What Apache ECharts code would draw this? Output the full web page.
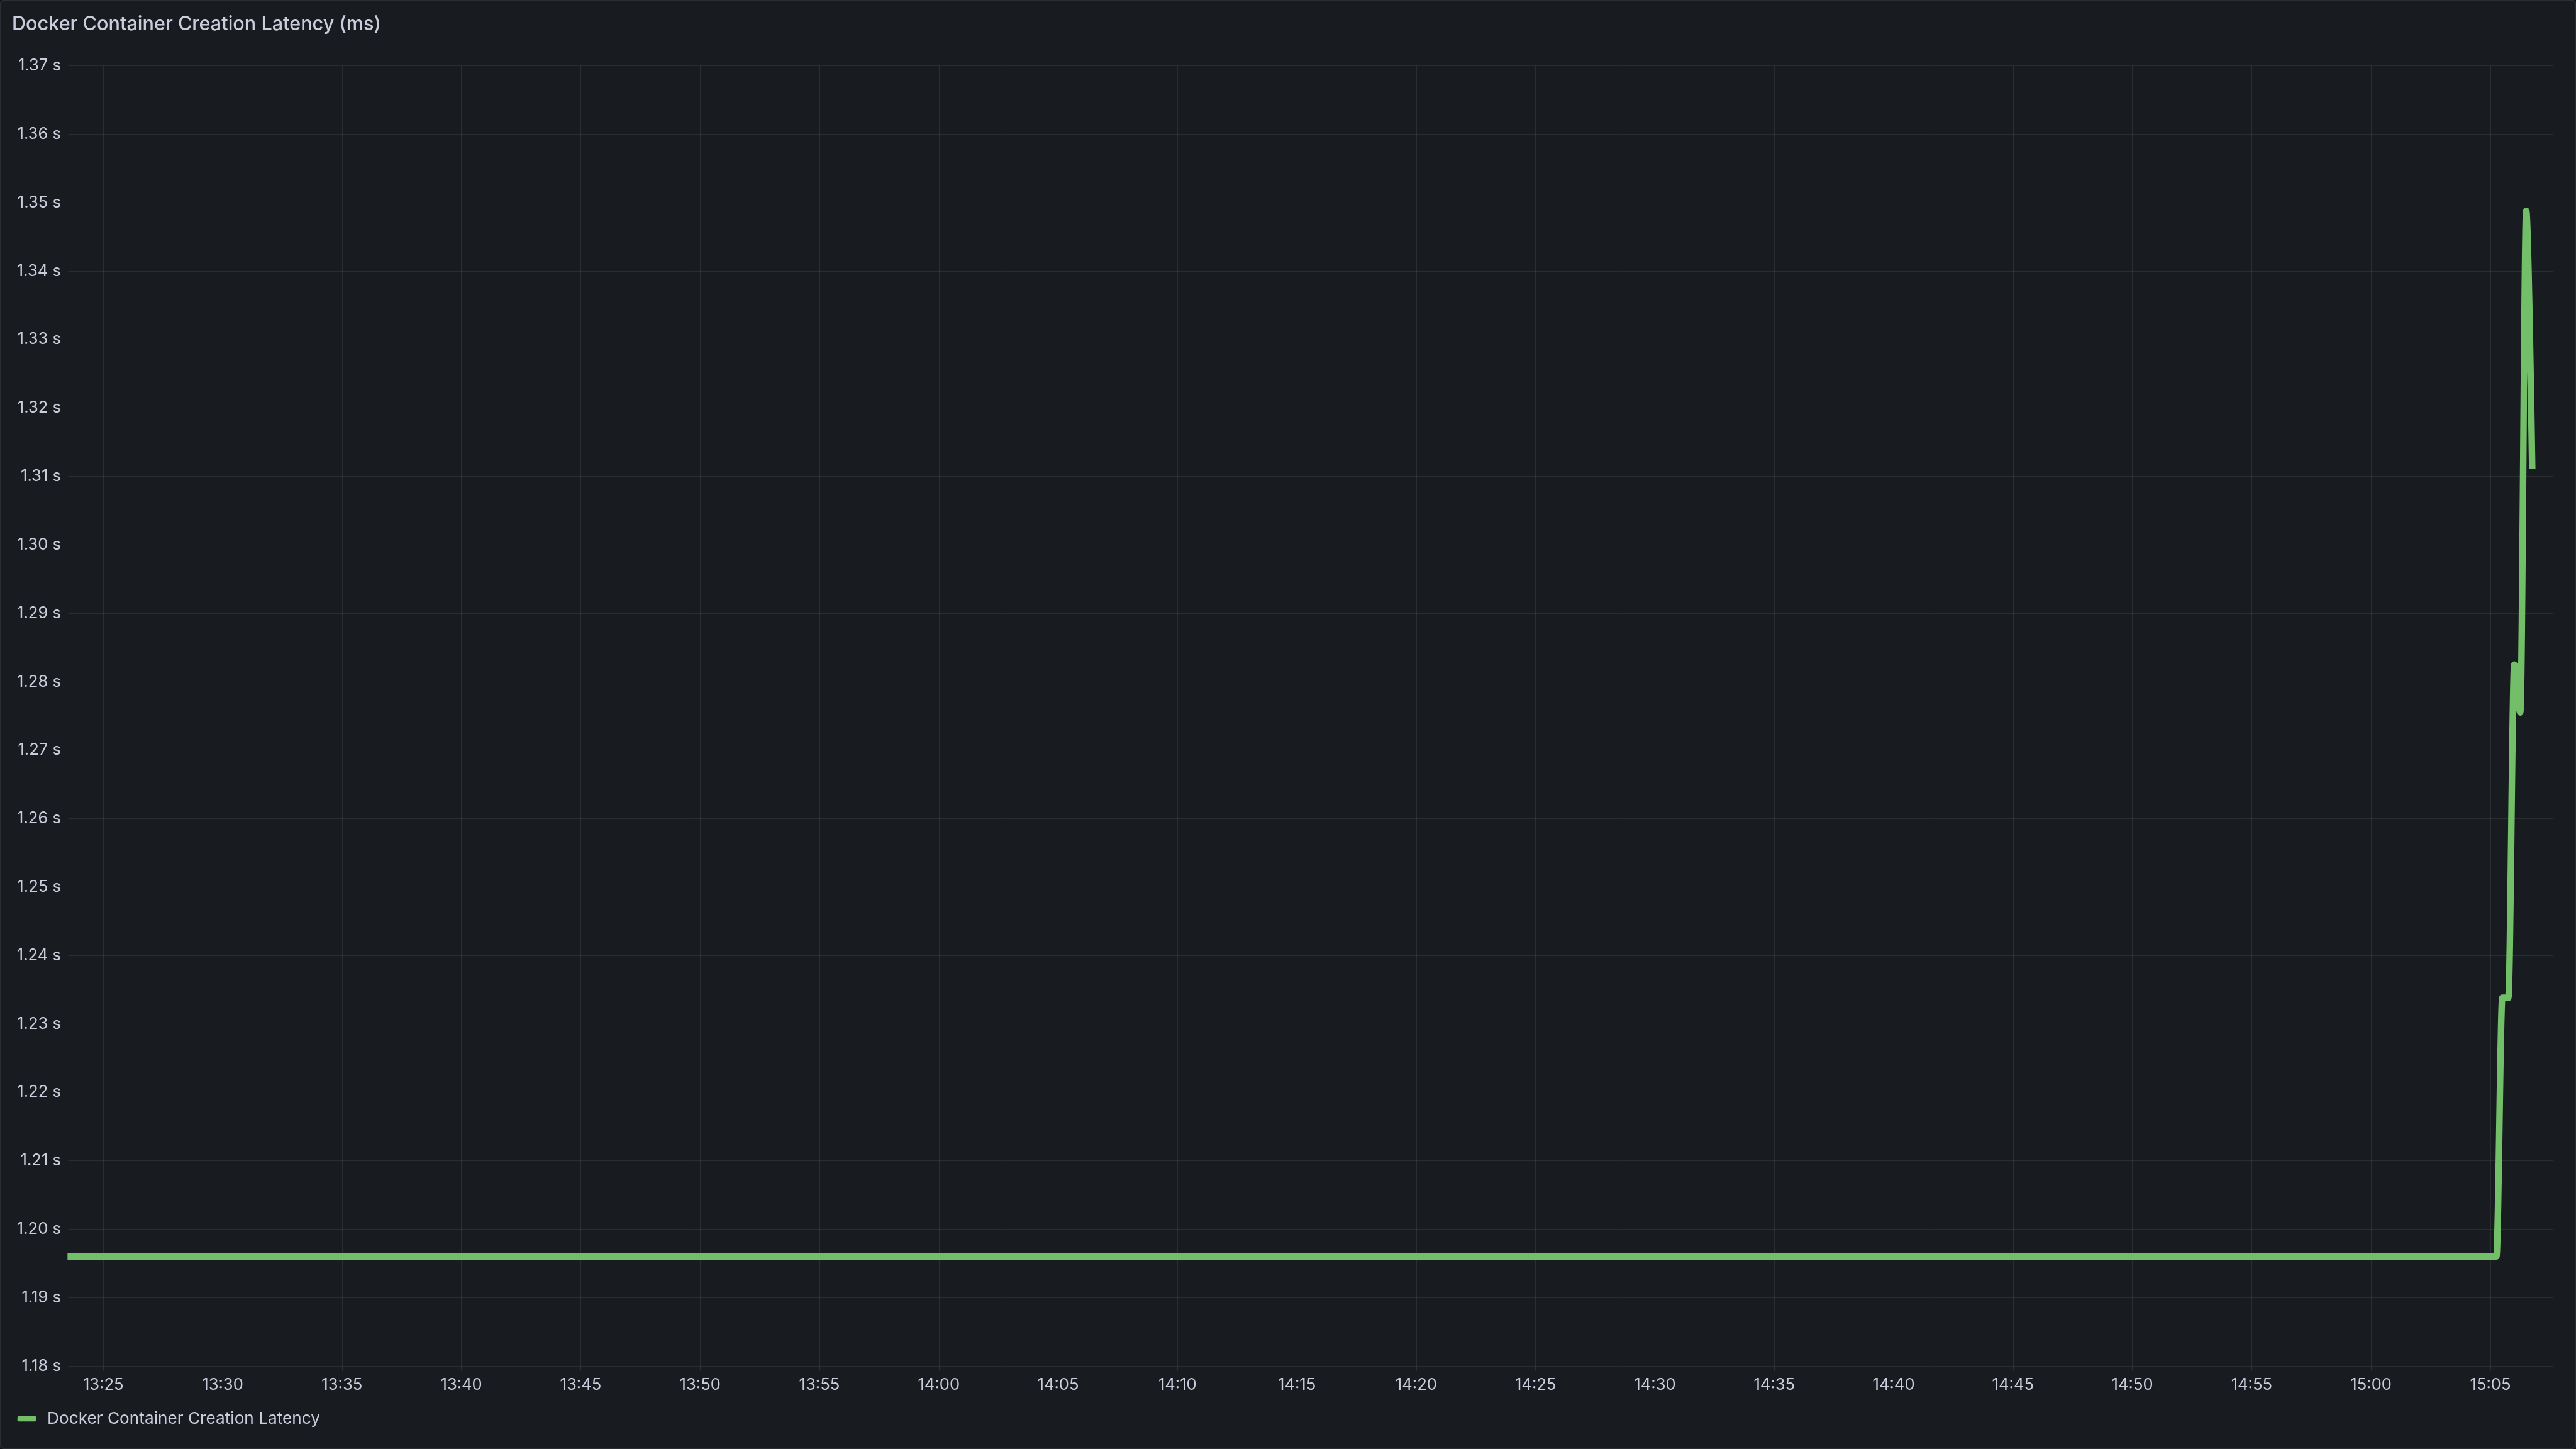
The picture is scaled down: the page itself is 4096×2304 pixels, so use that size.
<!DOCTYPE html>
<html>
<head>
<meta charset="utf-8">
<script src="https://cdn.jsdelivr.net/npm/echarts@6/dist/echarts.min.js"></script>
<style>
  html, body { margin: 0; padding: 0; width: 4096px; height: 2304px; background: #111217; overflow: hidden; }
  #panel { position: absolute; left: 0; top: 0; width: 4096px; height: 2304px; box-sizing: border-box;
           background: #181b1f; border: 2px solid #2b2e33; border-radius: 5px; }
  #chart { position: absolute; left: 0; top: 0; width: 4096px; height: 2304px; }
</style>
</head>
<body>
<div id="panel"></div>
<div id="chart"></div>
<script>
// ---- data ----
const chartTitle = 'Docker Container Creation Latency (ms)';
const seriesName = 'Docker Container Creation Latency';
const sampleTimes = ['13:23:30', '15:05:15', '15:05:30', '15:05:45', '15:06:00', '15:06:15', '15:06:30', '15:06:45'];
const latencyMs   = [1196.0,     1196.0,     1233.8,     1233.8,     1282.5,     1275.5,     1348.8,     1311.1];
const xTickLabels = ['13:25', '13:30', '13:35', '13:40', '13:45', '13:50', '13:55', '14:00', '14:05', '14:10', '14:15',
                     '14:20', '14:25', '14:30', '14:35', '14:40', '14:45', '14:50', '14:55', '15:00', '15:05'];
const axisStart = '13:23:32';
const axisEnd   = '15:07:38';
const yMin = 1180, yMax = 1370, yStep = 10;

// ---- helpers ----
function toTime(hms) {
  const p = hms.split(':').map(Number);
  return new Date(2024, 0, 15, p[0], p[1], p[2] || 0).getTime();
}
function pad(n) { return (n < 10 ? '0' : '') + n; }

const seriesData = sampleTimes.map((t, i) => [toTime(t), latencyMs[i]]);
const xTickValues = xTickLabels.map(toTime);

const textColor = '#ccccdc';
const gridColor = 'rgba(204,204,220,0.10)';
const font = 'Inter';

const chart = echarts.init(document.getElementById('chart'), null, { renderer: 'canvas' });
chart.setOption({
  backgroundColor: 'transparent',
  animation: false,
  title: {
    text: chartTitle,
    left: 19, top: 23, padding: 0,
    textStyle: { color: textColor, fontSize: 30.6, fontWeight: 500, fontFamily: font }
  },
  legend: {
    left: 27.7, top: 2243, padding: 0,
    icon: 'roundRect', itemWidth: 29.9, itemHeight: 8.5,
    data: [seriesName],
    textStyle: { color: textColor, fontSize: 26.2, fontFamily: font, padding: [0, 0, 0, 12.5] }
  },
  grid: { left: 108.6, right: 36.1, top: 104.5, bottom: 132 },
  xAxis: {
    type: 'value',
    min: toTime(axisStart), max: toTime(axisEnd),
    scale: true,
    axisLine: { show: false },
    axisTick: { show: true, length: 8, customValues: xTickValues, lineStyle: { color: gridColor, width: 1 } },
    splitLine: { show: true, lineStyle: { color: gridColor, width: 1 } },
    axisLabel: {
      color: textColor, fontSize: 25.6, fontFamily: font, margin: 17,
      customValues: xTickValues,
      formatter: function (v) { const d = new Date(v); return pad(d.getHours()) + ':' + pad(d.getMinutes()); }
    }
  },
  yAxis: {
    type: 'value',
    min: yMin, max: yMax, interval: yStep,
    axisLine: { show: false },
    axisTick: { show: false },
    splitLine: { show: true, lineStyle: { color: gridColor, width: 1 } },
    axisLabel: {
      color: textColor, fontSize: 25.6, fontFamily: font, margin: 11.6,
      formatter: function (v) { return (v / 1000).toFixed(2) + ' s'; }
    }
  },
  series: [{
    name: seriesName,
    type: 'line',
    data: seriesData,
    showSymbol: false,
    clip: false,
    smooth: 0.33,
    smoothMonotone: 'x',
    color: '#73bf69',
    lineStyle: { color: '#73bf69', width: 10.4, cap: 'butt', join: 'round' }
  }]
});
</script>
</body>
</html>
